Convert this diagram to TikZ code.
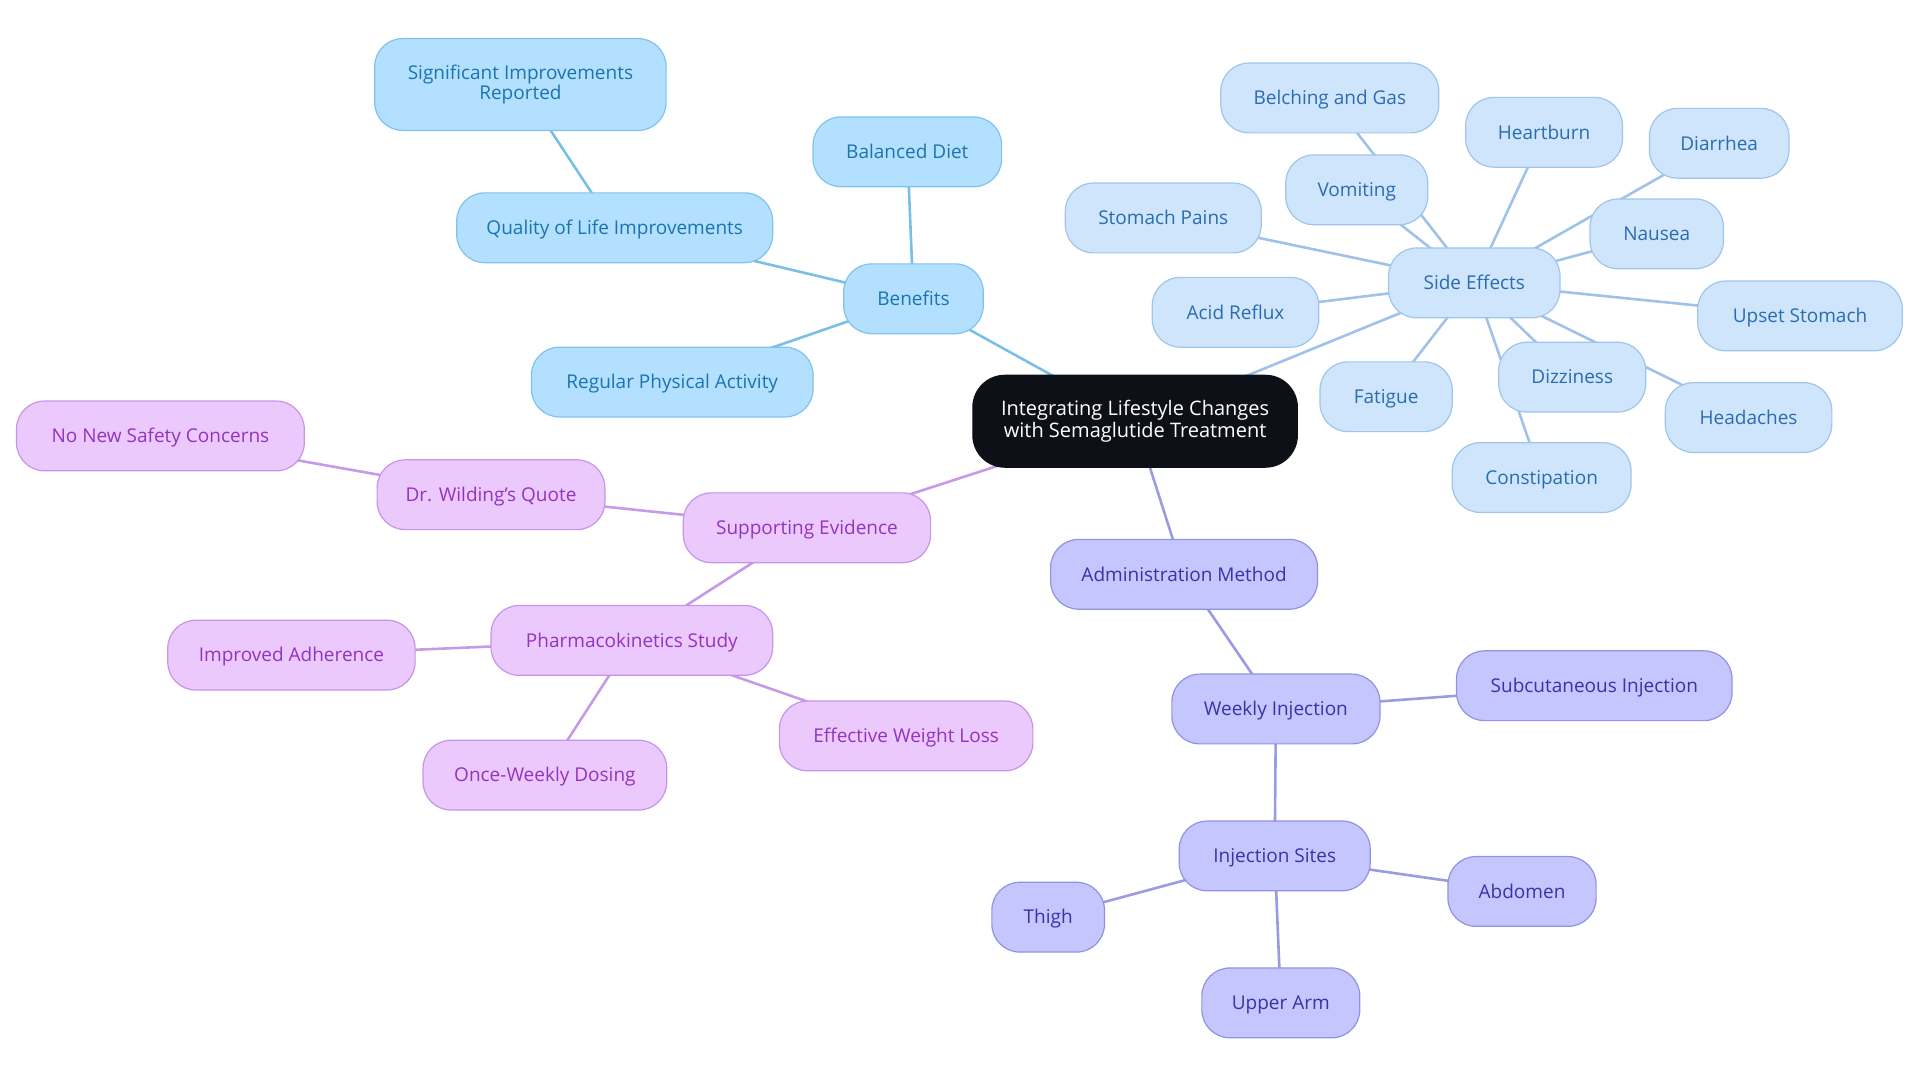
\documentclass[tikz,border=0pt]{standalone}
\usepackage{fontspec}
\setmainfont{Open Sans}
\usetikzlibrary{backgrounds}
\def\u{0.612245pt}
\definecolor{bnfill}{HTML}{B3E0FE}
\definecolor{bnline}{HTML}{7FC3EC}
\definecolor{bntext}{HTML}{1A74B0}
\definecolor{bnedge}{HTML}{7ABFE6}
\definecolor{sefill}{HTML}{CFE5FC}
\definecolor{seline}{HTML}{9FC6EA}
\definecolor{setext}{HTML}{2B6CB0}
\definecolor{seedge}{HTML}{9FC3E8}
\definecolor{spfill}{HTML}{EBC9FD}
\definecolor{spline}{HTML}{C795E6}
\definecolor{sptext}{HTML}{9333C0}
\definecolor{spedge}{HTML}{C69AE6}
\definecolor{adfill}{HTML}{C5C6FD}
\definecolor{adline}{HTML}{9094E0}
\definecolor{adtext}{HTML}{3535A8}
\definecolor{adedge}{HTML}{9A9BE0}
\definecolor{rootfill}{HTML}{0D1117}
\begin{document}
\begin{tikzpicture}[x=\u,y=-\u,
  base/.style={rounded corners=14pt, minimum height=57*\u, inner xsep=3pt, line width=0.6pt,
    font=\fontsize{9.5}{10.4}\selectfont, align=center, text height=6.8pt, text depth=0pt},
  twoline/.style={text height=, text depth=},
  wd/.style={minimum width=#1*\u},
  bn/.style={base, draw=bnline, fill=bnfill, text=bntext},
  se/.style={base, draw=seline, fill=sefill, text=setext},
  sp/.style={base, draw=spline, fill=spfill, text=sptext},
  ad/.style={base, draw=adline, fill=adfill, text=adtext},
  rootbox/.style={base, twoline, rounded corners=16pt, fill=rootfill, draw=rootfill, text=white,
    minimum height=75*\u, font=\fontsize{10}{10.6}\selectfont},
  ebn/.style={draw=bnedge, line width=1.3pt},
  ese/.style={draw=seedge, line width=1.3pt},
  esp/.style={draw=spedge, line width=1.3pt},
  ead/.style={draw=adedge, line width=1.3pt}
]
\useasboundingbox (0,0) rectangle (1568,884.5);
% root
\node[rootbox, wd=265] (root) at (927,344) {Integrating Lifestyle Changes\\with Semaglutide Treatment};
% benefits
\node[bn, wd=114] (ben) at (746,244) {Benefits};
\node[bn, wd=154] (diet) at (741,124) {Balanced Diet};
\node[bn, wd=258] (qol) at (502,186) {Quality of Life Improvements};
\node[bn, twoline, wd=238, minimum height=75*\u] (sig) at (425,69) {Significant Improvements\\Reported};
\node[bn, wd=230] (phys) at (549,312) {Regular Physical Activity};
% side effects
\node[se, wd=140] (side) at (1204,231) {Side Effects};
\node[se, wd=178] (belch) at (1086,80) {Belching and Gas};
\node[se, wd=128] (heart) at (1261,108) {Heartburn};
\node[se, wd=114] (diar) at (1404,117) {Diarrhea};
\node[se, wd=116] (vomit) at (1108,155) {Vomiting};
\node[se, wd=160] (stom) at (950,178) {Stomach Pains};
\node[se, wd=109] (naus) at (1353,191) {Nausea};
\node[se, wd=136] (acid) at (1009,255) {Acid Reflux};
\node[se, wd=167] (upset) at (1470,258) {Upset Stomach};
\node[se, wd=108] (fat) at (1132,324) {Fatigue};
\node[se, wd=120] (dizz) at (1284,308) {Dizziness};
\node[se, wd=136] (head) at (1428,341) {Headaches};
\node[se, wd=146] (const) at (1259,390) {Constipation};
% supporting evidence
\node[sp, wd=202] (supp) at (659,431) {Supporting Evidence};
\node[sp, wd=186] (wild) at (401,404) {Dr. Wilding's Quote};
\node[sp, wd=235] (safe) at (131,356) {No New Safety Concerns};
\node[sp, wd=230] (pharm) at (516,523) {Pharmacokinetics Study};
\node[sp, wd=202] (adh) at (238,535) {Improved Adherence};
\node[sp, wd=207] (loss) at (740,601) {Effective Weight Loss};
\node[sp, wd=199] (dose) at (445,633) {Once-Weekly Dosing};
% administration
\node[ad, wd=218] (admin) at (967,469) {Administration Method};
\node[ad, wd=170] (week) at (1042,579) {Weekly Injection};
\node[ad, wd=225] (subq) at (1302,560) {Subcutaneous Injection};
\node[ad, wd=156] (sites) at (1041,699) {Injection Sites};
\node[ad, wd=121] (abd) at (1243,728) {Abdomen};
\node[ad, wd=92] (thigh) at (856,749) {Thigh};
\node[ad, wd=129] (arm) at (1046,819) {Upper Arm};
% connectors
\begin{scope}[on background layer]
\draw[ebn] (root.center) -- (ben.center);
\draw[ebn] (ben.center) -- (diet.center);
\draw[ebn] (ben.center) -- (qol.center);
\draw[ebn] (qol.center) -- (sig.center);
\draw[ebn] (ben.center) -- (phys.center);
\draw[ese] (root.center) -- (side.center);
\foreach \n in {belch,heart,diar,vomit,stom,naus,acid,upset,fat,dizz,head,const}
  \draw[ese] (side.center) -- (\n.center);
\draw[esp] (root.center) -- (supp.center);
\draw[esp] (supp.center) -- (wild.center);
\draw[esp] (wild.center) -- (safe.center);
\draw[esp] (supp.center) -- (pharm.center);
\draw[esp] (pharm.center) -- (adh.center);
\draw[esp] (pharm.center) -- (loss.center);
\draw[esp] (pharm.center) -- (dose.center);
\draw[ead] (root.center) -- (admin.center);
\draw[ead] (admin.center) -- (week.center);
\draw[ead] (week.center) -- (subq.center);
\draw[ead] (week.center) -- (sites.center);
\draw[ead] (sites.center) -- (abd.center);
\draw[ead] (sites.center) -- (thigh.center);
\draw[ead] (sites.center) -- (arm.center);
\end{scope}
\end{tikzpicture}
\end{document}
